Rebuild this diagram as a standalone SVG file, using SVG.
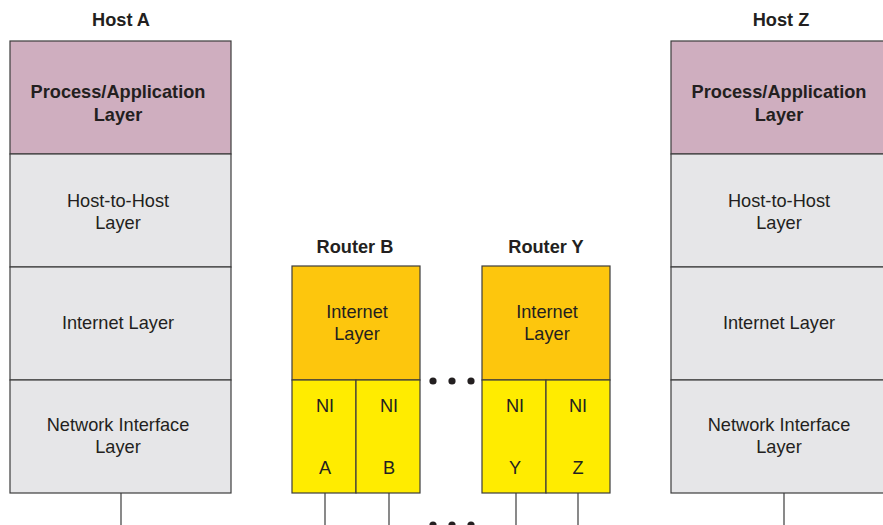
<svg xmlns="http://www.w3.org/2000/svg" width="883" height="525" viewBox="0 0 883 525">
<style>
text{font-family:"Liberation Sans",Arial,sans-serif;font-size:18.2px;fill:#231f20;text-anchor:middle}
.b{font-weight:bold}
.box{stroke:#3c3c3c;stroke-width:1.2}
.app{fill:#cfaebf}
.gray{fill:#e6e6e8}
.inet{fill:#fdc60d}
.ni{fill:#ffec00}
.ln{stroke:#3c3c3c;stroke-width:1.2;fill:none}
</style>
<rect width="883" height="525" fill="#fff"/>
<g id="hostA">
<text class="b" x="121" y="26">Host A</text>
<rect class="box app" x="10" y="41" width="221" height="113"/>
<rect class="box gray" x="10" y="154" width="221" height="113"/>
<rect class="box gray" x="10" y="267" width="221" height="113"/>
<rect class="box gray" x="10" y="380" width="221" height="113"/>
<text class="b" x="118" y="98">Process/Application</text>
<text class="b" x="118" y="121">Layer</text>
<text x="118" y="207">Host-to-Host</text>
<text x="118" y="229">Layer</text>
<text x="118" y="329">Internet Layer</text>
<text x="118" y="431">Network Interface</text>
<text x="118" y="453">Layer</text>
</g>
<g id="routerB">
<text class="b" x="355" y="253">Router B</text>
<rect class="box inet" x="292" y="266" width="128" height="114"/>
<rect class="box ni" x="292" y="380" width="64" height="113"/>
<rect class="box ni" x="356" y="380" width="64" height="113"/>
<text x="357" y="318">Internet</text>
<text x="357" y="340">Layer</text>
<text x="325" y="412">NI</text>
<text x="389" y="412">NI</text>
<text x="325" y="474">A</text>
<text x="389" y="474">B</text>
</g>
<g id="routerY">
<text class="b" x="546" y="253">Router Y</text>
<rect class="box inet" x="482" y="266" width="128" height="114"/>
<rect class="box ni" x="482" y="380" width="64" height="113"/>
<rect class="box ni" x="546" y="380" width="64" height="113"/>
<text x="547" y="318">Internet</text>
<text x="547" y="340">Layer</text>
<text x="515" y="412">NI</text>
<text x="578" y="412">NI</text>
<text x="515" y="474">Y</text>
<text x="578" y="474">Z</text>
</g>
<g id="hostZ">
<text class="b" x="781" y="26">Host Z</text>
<rect class="box app" x="671" y="41" width="230" height="113"/>
<rect class="box gray" x="671" y="154" width="230" height="113"/>
<rect class="box gray" x="671" y="267" width="230" height="113"/>
<rect class="box gray" x="671" y="380" width="230" height="113"/>
<text class="b" x="779" y="98">Process/Application</text>
<text class="b" x="779" y="121">Layer</text>
<text x="779" y="207">Host-to-Host</text>
<text x="779" y="229">Layer</text>
<text x="779" y="329">Internet Layer</text>
<text x="779" y="431">Network Interface</text>
<text x="779" y="453">Layer</text>
</g>
<g id="connectors">
<path class="ln" d="M121 493V525M325 493V525M389 493V525M516 493V525M578 493V525M784 493V525"/>
<g fill="#231f20">
<circle cx="433" cy="381" r="3.6"/><circle cx="452" cy="381" r="3.6"/><circle cx="471" cy="381" r="3.6"/>
<circle cx="433" cy="525" r="3.6"/><circle cx="452" cy="525" r="3.6"/><circle cx="471" cy="525" r="3.6"/>
</g>
</g>
</svg>
